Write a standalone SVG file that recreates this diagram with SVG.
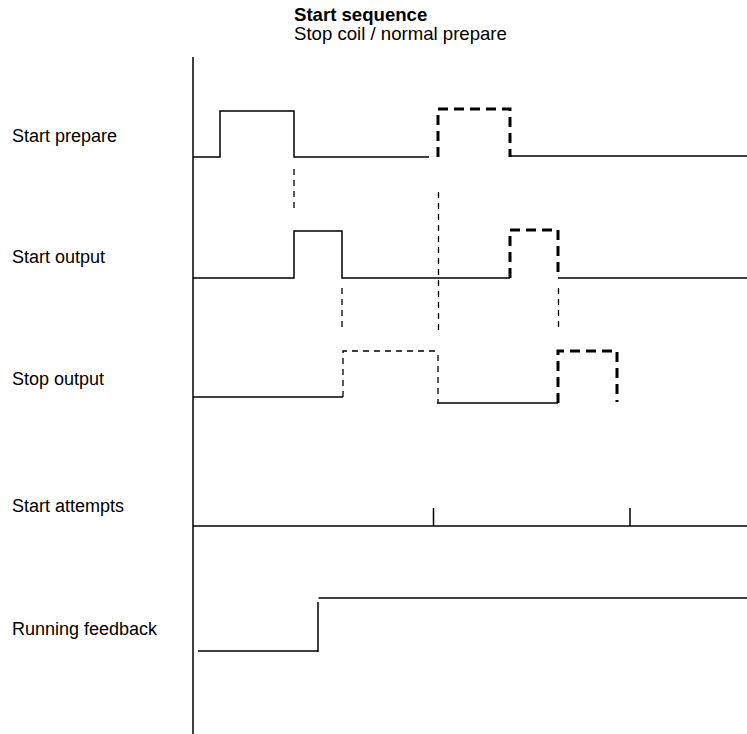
<svg xmlns="http://www.w3.org/2000/svg" width="747" height="734" viewBox="0 0 747 734">
<style>
text{font-family:"Liberation Sans",Arial,sans-serif;font-size:18px;fill:#000}
#title text{font-size:18.6px}
.t{font-weight:bold}
.s{fill:none;stroke:#000;stroke-width:1.5}
.d{fill:none;stroke:#000;stroke-width:1.3;stroke-dasharray:6 5}
.k{fill:none;stroke:#000;stroke-width:3;stroke-dasharray:10 6}
</style>
<rect width="747" height="734" fill="#fff"/>
<g id="title">
<text class="t" x="294" y="21">Start sequence</text>
<text x="294" y="40">Stop coil / normal prepare</text>
</g>
<g id="axis"><line class="s" x1="193" y1="57" x2="193" y2="734"/></g>
<g id="start-prepare">
<text x="12" y="142">Start prepare</text>
<polyline class="s" points="193,157 220,157 220,111 294,111 294,157 429,157"/>
<polyline class="k" points="438,157 438,109 510,109 510,157"/>
<line class="s" x1="511" y1="156" x2="747" y2="156"/>
</g>
<g id="start-output">
<text x="12" y="263">Start output</text>
<polyline class="s" points="193,278 294,278 294,231 342,231 342,278 510,278"/>
<polyline class="k" points="510,278 510,230 558,230 558,278"/>
<line class="s" x1="558" y1="278" x2="747" y2="278"/>
</g>
<g id="stop-output">
<text x="12" y="385">Stop output</text>
<polyline class="s" points="193,397 343,397"/>
<polyline class="d" points="343,397 343,351 437,351"/>
<line class="d" x1="438" y1="355" x2="438" y2="403"/>
<line class="s" x1="437" y1="403" x2="558" y2="403"/>
<polyline class="k" points="558,403 558,351 617,351 617,402"/>
</g>
<g id="start-attempts">
<text x="12" y="512">Start attempts</text>
<line class="s" x1="193" y1="526" x2="747" y2="526"/>
<line class="s" x1="433.5" y1="508" x2="433.5" y2="526"/>
<line class="s" x1="630" y1="508" x2="630" y2="526"/>
</g>
<g id="running-feedback">
<text x="12" y="635">Running feedback</text>
<line class="s" x1="198" y1="651" x2="318" y2="651"/>
<line class="s" x1="318" y1="602" x2="318" y2="652"/>
<line class="s" x1="318.5" y1="598" x2="747" y2="598"/>
</g>
<g id="connectors">
<line class="d" x1="294" y1="169" x2="294" y2="211"/>
<line class="d" x1="438.5" y1="192" x2="438.5" y2="332"/>
<line class="d" x1="342" y1="288" x2="342" y2="332"/>
<line class="d" x1="558.5" y1="288" x2="558.5" y2="332"/>
</g>
</svg>
